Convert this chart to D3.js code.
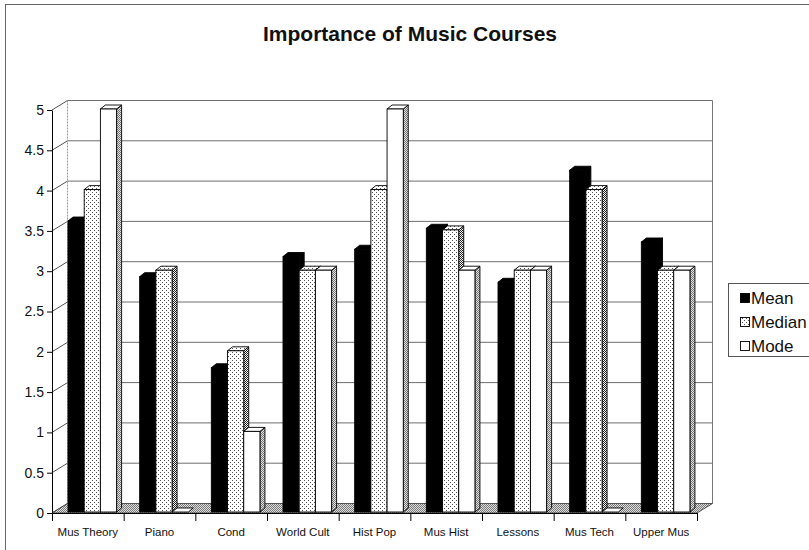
<!DOCTYPE html>
<html>
<head>
<meta charset="utf-8">
<script src="https://cdn.jsdelivr.net/npm/d3@7"></script>
<style>
  html, body { margin: 0; padding: 0; background: #fff; }
  svg { display: block; font-family: "Liberation Sans", Arial, sans-serif; }
</style>
</head>
<body>
<script>
// Course ratings: mean, median and mode per course
const categories = ["Mus Theory", "Piano", "Cond", "World Cult", "Hist Pop", "Mus Hist", "Lessons", "Mus Tech", "Upper Mus"];
const meanValues = [3.61, 2.92, 1.79, 3.17, 3.26, 3.52, 2.85, 4.24, 3.35];
const medianValues = [4, 3, 2, 3, 4, 3.5, 3, 4, 3];
const modeValues = [5, 0, 1, 3, 5, 3, 3, 0, 3];
const seriesNames = ["Mean", "Median", "Mode"];
const yTickValues = [0, 0.5, 1, 1.5, 2, 2.5, 3, 3.5, 4, 4.5, 5];
const chartTitle = "Importance of Music Courses";

const seriesValues = [meanValues, medianValues, modeValues];

const W = 809, H = 550;
const svg = d3.select("body").append("svg").attr("width", W).attr("height", H);

// ---- fill patterns ----
const defs = svg.append("defs");
function pattern(id, size, bg, dots, dotColor) {
  const p = defs.append("pattern").attr("id", id).attr("patternUnits", "userSpaceOnUse")
    .attr("width", size).attr("height", size);
  p.append("rect").attr("width", size).attr("height", size).attr("fill", bg);
  dots.forEach(([dx, dy]) => p.append("rect").attr("x", dx).attr("y", dy)
    .attr("width", 1).attr("height", 1).attr("fill", dotColor));
}
pattern("dots", 4, "#fff", [[0, 0], [2, 2]], "#555");
pattern("checker", 2, "#fff", [[0, 0], [1, 1]], "#222");
pattern("grayDither", 2, "#e0e0e0", [[0, 0], [1, 1]], "#777");

const styles = {
  Mean:   { front: "#000", top: "#000", side: "#000" },
  Median: { front: "url(#dots)", top: "url(#dots)", side: "url(#checker)" },
  Mode:   { front: "#fff", top: "#fff", side: "url(#grayDither)" }
};

// ---- outer frame ----
svg.append("rect").attr("x", 5.5).attr("y", 4.5).attr("width", 900).attr("height", 700)
  .attr("fill", "none").attr("stroke", "#666").attr("stroke-width", 1);

// ---- title ----
svg.append("text").attr("x", 410).attr("y", 41).attr("text-anchor", "middle")
  .attr("font-size", 21).attr("font-weight", "bold").attr("fill", "#111").text(chartTitle);

// ---- scales ----
const x = d3.scaleBand().domain(categories).range([52, 697]).paddingInner(0).paddingOuter(0);
const xs = d3.scaleBand().domain(seriesNames).range([14.5, 63.1]).padding(0);
const y = d3.scaleLinear().domain([0, 5]).range([513, 110]);
const xIdx = d3.scaleLinear().domain([0, categories.length]).range([52, 697]);

// depth projection of the plot box and of the bars
const DX = 15.5, DY = -9.5;
const F0 = { dx: 1.5, dy: -1 };
const BD = { dx: 5, dy: -4 };

const plot = svg.append("g");
const xL = xIdx(0), xR = xIdx(categories.length);
const y0 = y(0), y5 = y(5);

// back wall
plot.append("rect").attr("x", xL + DX).attr("y", y5 + DY)
  .attr("width", xR - xL).attr("height", y0 - y5)
  .attr("fill", "#fff").attr("stroke", "none");

// back wall gridlines and side-wall diagonals
yTickValues.filter(v => v > 0).forEach(v => {
  plot.append("line").attr("x1", xL + DX).attr("x2", xR + DX)
    .attr("y1", y(v) + DY).attr("y2", y(v) + DY)
    .attr("stroke", "#6e6e6e").attr("stroke-width", 1);
});
yTickValues.forEach(v => {
  plot.append("line").attr("x1", xL).attr("y1", y(v))
    .attr("x2", xL + DX).attr("y2", y(v) + DY)
    .attr("stroke", "#555").attr("stroke-width", 1);
});
// back wall edges
plot.append("line").attr("x1", xL + DX).attr("x2", xL + DX).attr("y1", y5 + DY).attr("y2", y0 + DY)
  .attr("stroke", "#999").attr("stroke-dasharray", "2,1");
plot.append("line").attr("x1", xR + DX).attr("x2", xR + DX).attr("y1", y5 + DY).attr("y2", y0 + DY)
  .attr("stroke", "#777");

// floor
const floorPts = [[xL, y0], [xR, y0], [xR + DX, y0 + DY], [xL + DX, y0 + DY]];
plot.append("path").attr("d", "M" + floorPts.map(p => p.join(",")).join("L") + "Z")
  .attr("fill", "url(#grayDither)").attr("stroke", "#333").attr("stroke-width", 0.8);

// ---- bars ----
const poly = pts => "M" + pts.map(p => p[0].toFixed(2) + "," + p[1].toFixed(2)).join("L") + "Z";
const bars = plot.append("g");
categories.forEach((cat, i) => {
  seriesNames.forEach((s, k) => {
    const v = seriesValues[k][i];
    const st = styles[s];
    const bx = x(cat) + xs(s) + F0.dx;
    const bw = xs.bandwidth();
    const yt = y(v) + F0.dy;
    const yb = y(0) + F0.dy;
    const g = bars.append("g").attr("stroke", "#000").attr("stroke-width", 0.9)
      .attr("stroke-linejoin", "miter");
    if (v > 0) {
      g.append("path").attr("fill", st.side)
        .attr("d", poly([[bx + bw, yt], [bx + bw + BD.dx, yt + BD.dy], [bx + bw + BD.dx, yb + BD.dy], [bx + bw, yb]]));
    }
    g.append("path").attr("fill", v > 0 ? st.top : "#fff")
      .attr("d", poly([[bx, yt], [bx + bw, yt], [bx + bw + BD.dx, yt + BD.dy], [bx + BD.dx, yt + BD.dy]]));
    if (v > 0) {
      g.append("rect").attr("x", bx).attr("y", yt).attr("width", bw).attr("height", yb - yt)
        .attr("fill", st.front);
    }
  });
});

// ---- axes ----
const yAxis = d3.axisLeft(y).tickValues(yTickValues).tickSize(5).tickSizeOuter(0)
  .tickPadding(3).tickFormat(d => String(d));
const yg = svg.append("g").attr("transform", `translate(${xL},0)`).call(yAxis);
yg.selectAll("text").attr("font-size", 14).attr("fill", "#111")
  .attr("font-family", "'Liberation Sans', Arial, sans-serif");
yg.selectAll("line,path").attr("stroke", "#000");

const xTicks = d3.axisBottom(xIdx).tickValues(d3.range(categories.length + 1))
  .tickSize(8).tickSizeOuter(0).tickFormat("");
const xg = svg.append("g").attr("transform", `translate(0,${y0})`).call(xTicks);
xg.selectAll("line,path").attr("stroke", "#000");

const xLabels = d3.axisBottom(x).tickSize(0).tickPadding(15);
const xl = svg.append("g").attr("transform", `translate(0,${y0})`).call(xLabels);
xl.select(".domain").remove();
xl.selectAll("text").attr("font-size", 11.5).attr("fill", "#111")
  .attr("font-family", "'Liberation Sans', Arial, sans-serif");

// ---- legend ----
const lg = svg.append("g");
lg.append("rect").attr("x", 728.5).attr("y", 283.5).attr("width", 120).attr("height", 73)
  .attr("fill", "#fff").attr("stroke", "#555");
seriesNames.forEach((s, k) => {
  const by = 304 + k * 24;
  lg.append("rect").attr("x", 740.5).attr("y", by - 10.5).attr("width", 9).attr("height", 9)
    .attr("fill", styles[s].front).attr("stroke", "#000").attr("stroke-width", 0.9);
  lg.append("text").attr("x", 751).attr("y", by).attr("font-size", 17).attr("fill", "#111").text(s);
});
</script>
</body>
</html>
